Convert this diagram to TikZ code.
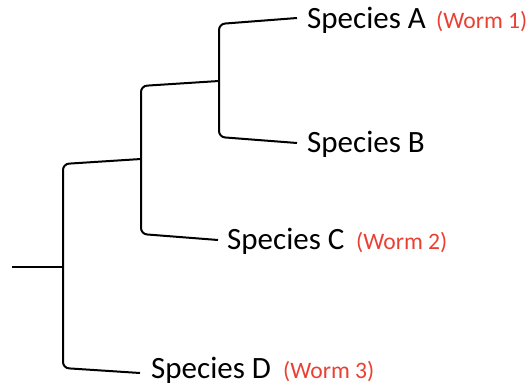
\documentclass[tikz,border=0pt]{standalone}
\usepackage{fontspec}
\setmainfont{Carlito}
\definecolor{wormred}{RGB}{234,64,52}
\begin{document}
\begin{tikzpicture}[x=1pt,y=-1pt,
  branch/.style={line width=2pt,rounded corners=6pt},
  species/.style={anchor=base west,inner sep=0pt,font=\fontsize{31}{31}\selectfont},
  worm/.style={anchor=base west,inner sep=0pt,text=wormred,font=\fontsize{23.6}{24}\selectfont}]
\useasboundingbox (0,0) rectangle (532,385);
% labels
\node[species] (A) at (307,29) {Species A};
\node[worm] (wA) at (436,29) {(Worm 1)};
\node[species] (B) at (307,152) {Species B};
\node[species] (C) at (227,249) {Species C};
\node[worm] (wC) at (356,249) {(Worm 2)};
\node[species] (D) at (151,378) {Species D};
\node[worm] (wD) at (283,378) {(Worm 3)};
% tips and junctions
\coordinate (root) at (12,267);
\coordinate (j1) at (63,267);
\coordinate (j2) at (141,159);
\coordinate (j3) at (219,81);
\coordinate (tA) at (297,18);
\coordinate (tB) at (297,143);
\coordinate (tC) at (218,240);
\coordinate (tD) at (140,373);
% tree
\draw[line width=2pt] (root) -- (j1);
\draw[branch] (j2) -- (63,164) -- (63,368) -- (tD);
\draw[branch] (j3) -- (141,86) -- (141,234) -- (tC);
\draw[branch] (tA) -- (219,24) -- (219,137) -- (tB);
\end{tikzpicture}
\end{document}
